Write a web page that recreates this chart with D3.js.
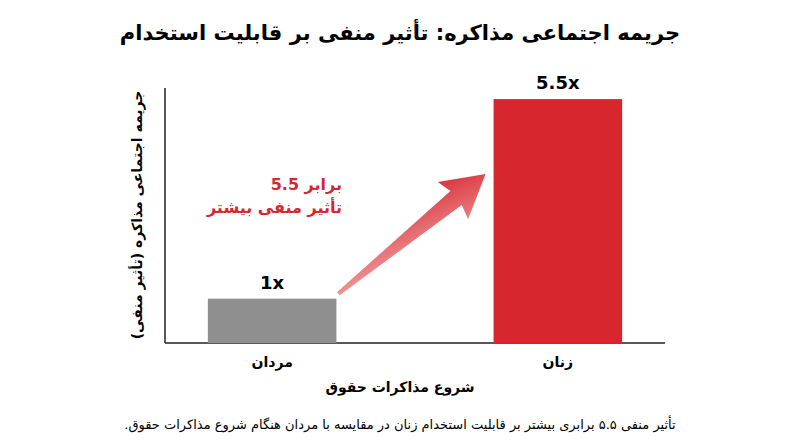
<!DOCTYPE html>
<html><head><meta charset="utf-8">
<script src="https://cdn.jsdelivr.net/npm/d3@7"></script>
<style>body{margin:0;background:#fff}text{font-family:"DejaVu Sans","Noto Sans",sans-serif}</style>
</head><body><svg id="c" width="800" height="447"></svg>
<script>
const categories=["مردان","زنان"];
const values=[1,5.5];
const valueLabels=["1x","5.5x"];
const colors=["#8f8f8f","#d7262e"];
const title="جریمه اجتماعی مذاکره: تأثیر منفی بر قابلیت استخدام";
const yTitle="جریمه اجتماعی مذاکره (تأثیر منفی)";
const xTitle="شروع مذاکرات حقوق";
const footer="تأثیر منفی ۵.۵ برابری بیشتر بر قابلیت استخدام زنان در مقایسه با مردان هنگام شروع مذاکرات حقوق.";
const arrowLines=["5.5 برابر","تأثیر منفی بیشتر"];
const svg=d3.select("#c");
const x=d3.scaleBand().domain(categories).range([165,665]).paddingInner(0.55).paddingOuter(0.15);
const y=d3.scaleLinear().domain([0,5.75]).range([343,88]);
svg.append("text").attr("x",400).attr("y",40).attr("text-anchor","middle").attr("font-size",21).attr("font-weight","bold").attr("direction","rtl").text(title);
svg.append("line").attr("x1",165).attr("x2",165).attr("y1",88).attr("y2",343).attr("stroke","#222").attr("stroke-width",1.5);
svg.append("line").attr("x1",165).attr("x2",665).attr("y1",343).attr("y2",343).attr("stroke","#222").attr("stroke-width",1.5);
svg.selectAll(".bar").data(values).enter().append("rect").attr("x",(d,i)=>x(categories[i])).attr("width",x.bandwidth()).attr("y",d=>y(d)).attr("height",d=>343-y(d)).attr("fill",(d,i)=>colors[i]);
svg.selectAll(".vl").data(values).enter().append("text").attr("x",(d,i)=>x(categories[i])+x.bandwidth()/2).attr("y",d=>y(d)-10).attr("text-anchor","middle").attr("font-size",18).attr("font-weight","bold").text((d,i)=>valueLabels[i]);
svg.selectAll(".cl").data(categories).enter().append("text").attr("x",d=>x(d)+x.bandwidth()/2).attr("y",367).attr("text-anchor","middle").attr("font-size",14).attr("font-weight","bold").text(d=>d);
svg.append("text").attr("x",400).attr("y",392).attr("text-anchor","middle").attr("font-size",14).attr("font-weight","bold").attr("direction","rtl").text(xTitle);
svg.append("text").attr("transform","translate(142,215) rotate(-90)").attr("text-anchor","middle").attr("font-size",14).attr("font-weight","bold").attr("direction","rtl").text(yTitle);
svg.append("text").attr("x",400).attr("y",429).attr("text-anchor","middle").attr("font-size",13).attr("direction","rtl").text(footer);
const defs=svg.append("defs");
const g=defs.append("linearGradient").attr("id","ag").attr("x1","0").attr("y1","1").attr("x2","1").attr("y2","0");
g.append("stop").attr("offset","0").attr("stop-color","#f3b5b5");
g.append("stop").attr("offset","1").attr("stop-color","#d7262e");
const x0=x(categories[0])+x.bandwidth()+2, y0=y(values[0])-5, x1=x(categories[1])-8, y1=y(values[1])+75;
const ang=Math.atan2(y1-y0,x1-x0), L=Math.hypot(x1-x0,y1-y0);
const pts=[[0,-2],[L-38,-9],[L-42,-24],[L,0],[L-42,24],[L-38,9],[0,2]];
svg.append("polygon").attr("points",pts.map(p=>p.join(",")).join(" ")).attr("fill","url(#ag)").attr("transform",`translate(${x0},${y0}) rotate(${ang*180/Math.PI})`);
svg.selectAll(".al").data(arrowLines).enter().append("text").attr("x",342).attr("y",(d,i)=>190+i*23).attr("text-anchor","end").attr("font-size",16).attr("font-weight","bold").attr("fill","#d7262e").text(d=>d);
</script></body></html>
